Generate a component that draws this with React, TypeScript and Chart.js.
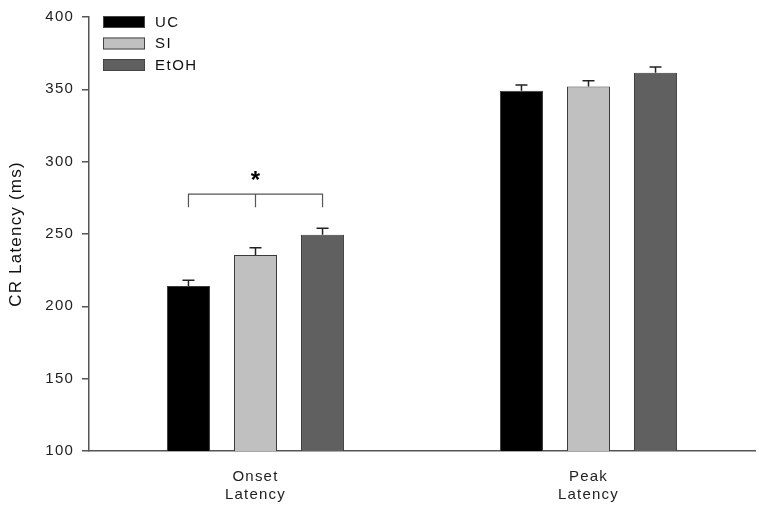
import React, { useEffect, useRef } from "react";
import { Chart, registerables } from "chart.js";

Chart.register(...registerables);

const categories = [["Onset", "Latency"], ["Peak", "Latency"]];
const seriesNames = ["UC", "SI", "EtOH"];
const ucValues = [214, 349];
const siValues = [235.5, 352];
const etohValues = [249.5, 361.5];
const ucErrors = [4, 4];
const siErrors = [5, 4];
const etohErrors = [4.5, 4];
const seriesColors = ["#000000", "#c0c0c0", "#606060"];
const yTicks = [100, 150, 200, 250, 300, 350, 400];
const bracketLevel = 277.5;
const bracketDrop = 268.5;
const starLevel = 289;

const FONT = "'Liberation Sans', Arial, sans-serif";

const spacingPlugin = {
  id: "letterSpacing",
  beforeDraw(chart: any) {
    (chart.ctx as any).letterSpacing = "1.2px";
  },
};

const errorBarPlugin = {
  id: "errorBars",
  afterDatasetsDraw(chart: any) {
    const ctx = chart.ctx;
    const y = chart.scales.y;
    const errs = [ucErrors, siErrors, etohErrors];
    chart.data.datasets.forEach((ds: any, i: number) => {
      const meta = chart.getDatasetMeta(i);
      meta.data.forEach((bar: any, j: number) => {
        const v = ds.data[j];
        const top = y.getPixelForValue(v + errs[i][j]);
        ctx.save();
        ctx.strokeStyle = "#222";
        ctx.lineWidth = 1.5;
        ctx.beginPath();
        ctx.moveTo(bar.x, bar.y);
        ctx.lineTo(bar.x, top);
        ctx.moveTo(bar.x - 6, top);
        ctx.lineTo(bar.x + 6, top);
        ctx.stroke();
        ctx.restore();
      });
    });
    const x0 = chart.getDatasetMeta(0).data[0].x;
    const x1 = chart.getDatasetMeta(1).data[0].x;
    const x2 = chart.getDatasetMeta(2).data[0].x;
    const yb = y.getPixelForValue(bracketLevel);
    const yd = y.getPixelForValue(bracketDrop);
    ctx.save();
    ctx.strokeStyle = "#555";
    ctx.lineWidth = 1.2;
    ctx.beginPath();
    ctx.moveTo(x0, yd);
    ctx.lineTo(x0, yb);
    ctx.lineTo(x2, yb);
    ctx.lineTo(x2, yd);
    ctx.moveTo(x1, yb);
    ctx.lineTo(x1, yd);
    ctx.stroke();
    ctx.fillStyle = "#000";
    (ctx as any).letterSpacing = "0px";
    ctx.font = "bold 24px " + FONT;
    ctx.textAlign = "center";
    ctx.textBaseline = "middle";
    ctx.fillText("*", x1, y.getPixelForValue(starLevel) + 4);
    ctx.restore();
  },
};

const legendPlugin = {
  id: "customLegend",
  afterDraw(chart: any) {
    const ctx = chart.ctx;
    const left = chart.chartArea.left + 14;
    const top = chart.chartArea.top - 1;
    ctx.save();
    seriesNames.forEach((name, i) => {
      const yy = top + i * 21.5;
      ctx.fillStyle = seriesColors[i];
      ctx.strokeStyle = "#444";
      ctx.lineWidth = 1;
      ctx.fillRect(left, yy, 42, 12);
      ctx.strokeRect(left + 0.5, yy + 0.5, 41, 11);
      ctx.fillStyle = "#111";
      ctx.font = "15px " + FONT;
      (ctx as any).letterSpacing = "1.5px";
      ctx.textAlign = "left";
      ctx.textBaseline = "middle";
      ctx.fillText(name, left + 52, yy + 6.5);
    });
    ctx.restore();
  },
};

export default function App() {
  const ref = useRef<HTMLCanvasElement>(null);
  useEffect(() => {
    document.body.style.margin = "0";
    const datasets = [ucValues, siValues, etohValues].map((vals, i) => ({
      label: seriesNames[i],
      data: vals,
      backgroundColor: seriesColors[i],
      borderColor: "#3a3a3a",
      borderWidth: 1,
      categoryPercentage: 0.604,
      barPercentage: 0.642,
    }));
    const chart = new Chart(ref.current as HTMLCanvasElement, {
      type: "bar",
      data: { labels: categories as any, datasets },
      plugins: [spacingPlugin, errorBarPlugin, legendPlugin],
      options: {
        animation: false,
        responsive: false,
        devicePixelRatio: 1,
        layout: { padding: { top: 15, right: 4, left: 0, bottom: 0 } },
        plugins: { legend: { display: false }, tooltip: { enabled: false } },
        scales: {
          x: {
            grid: { display: false, drawTicks: false },
            border: { display: true, color: "#555", width: 1.5 },
            ticks: {
              color: "#222",
              padding: 17,
              font: { family: FONT, size: 15, lineHeight: 1.2 },
            },
            afterFit(scale: any) {
              scale.height = 60;
            },
          },
          y: {
            min: 100,
            max: 400,
            afterBuildTicks(scale: any) {
              scale.ticks = yTicks.map((v) => ({ value: v }));
            },
            grid: { display: true, drawOnChartArea: false, tickLength: 7, color: "#555", lineWidth: 1.5 },
            border: { display: true, color: "#555", width: 1.5 },
            ticks: {
              color: "#222",
              padding: 8,
              font: { family: FONT, size: 15 },
            },
            title: {
              display: true,
              text: "CR Latency (ms)",
              color: "#111",
              font: { family: FONT, size: 17 },
              padding: { top: 6, bottom: 4 },
            },
            afterFit(scale: any) {
              scale.width = 89;
            },
          },
        },
      },
    });
    return () => chart.destroy();
  }, []);
  return (
    <div style={{ width: 759, height: 511 }}>
      <canvas ref={ref} width={759} height={511} style={{ width: 759, height: 511, display: "block" }} />
    </div>
  );
}
